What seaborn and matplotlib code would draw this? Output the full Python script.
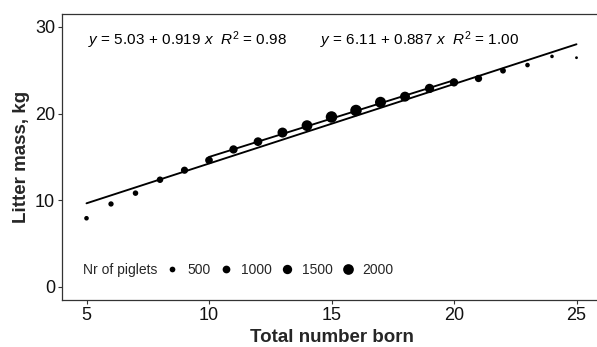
import matplotlib
matplotlib.use("Agg")
import matplotlib.pyplot as plt
from matplotlib.lines import Line2D
import numpy as np
import pandas as pd
import seaborn as sns

# ---- data ----
total_born = [5, 6, 7, 8, 9, 10, 11, 12, 13, 14, 15, 16, 17, 18, 19, 20, 21, 22, 23, 24, 25]
litter_mass = [7.9, 9.55, 10.8, 12.35, 13.45, 14.6, 15.85, 16.75, 17.8, 18.6, 19.6, 20.35,
               21.3, 21.95, 22.9, 23.6, 24.05, 24.95, 25.6, 26.6, 26.45]
n_piglets = [290, 420, 460, 680, 850, 990, 1170, 1290, 1730, 2040, 2320, 2320,
             2120, 1730, 1490, 1170, 880, 520, 290, 140, 50]

fit_intercepts = [5.03, 6.11]
fit_slopes = [0.919, 0.887]
fit_r2 = [0.98, 1.00]
fit_xmin = [5, 10]
fit_xmax = [25, 20]

legend_breaks = [500, 1000, 1500, 2000]
legend_title = "Nr of piglets"
x_ticks = [5, 10, 15, 20, 25]
y_ticks = [0, 10, 20, 30]
x_label = "Total number born"
y_label = "Litter mass, kg"

# ---- style ----
sns.set_style("ticks")
plt.rcParams['font.family'] = ['Liberation Sans', 'DejaVu Sans']
plt.rcParams['mathtext.fontset'] = 'custom'
plt.rcParams['mathtext.rm'] = 'Liberation Sans'
plt.rcParams['mathtext.it'] = 'Liberation Sans:italic'
plt.rcParams['mathtext.bf'] = 'Liberation Sans:bold'

W, H = 597, 347
fig = plt.figure(figsize=(W / 100, H / 100), dpi=100)
ax = fig.add_axes([62 / W, 1 - 299.6 / H, 539 / W, 285.6 / H])

df = pd.DataFrame({"tb": total_born, "mass": litter_mass, "n": n_piglets})

SIZE_NORM = (0, 2400)
s_of = lambda c: 2.7 + 0.02836 * c
SIZES = (s_of(SIZE_NORM[0]), s_of(SIZE_NORM[1]))

sns.scatterplot(data=df, x="tb", y="mass", size="n", sizes=SIZES, size_norm=SIZE_NORM,
                color="black", linewidth=0, legend=False, ax=ax, zorder=3)

for a, b, x0, x1 in zip(fit_intercepts, fit_slopes, fit_xmin, fit_xmax):
    xs = np.array([x0, x1], dtype=float)
    sns.lineplot(x=xs, y=a + b * xs, color="black", linewidth=1.35, ax=ax, zorder=4)

ax.set_xlim(4, 26)
ax.set_ylim(-1.5, 31.5)
ax.set_xticks(x_ticks)
ax.set_yticks(y_ticks)
ax.tick_params(axis="both", labelsize=13, length=3, width=0.8, color="#333333", pad=2,
               labelcolor="#111111")
for sp in ax.spines.values():
    sp.set_linewidth(0.9)
    sp.set_color("#333333")
ax.spines["right"].set_visible(False)

ax.set_xlabel(x_label, fontsize=13.5, fontweight="bold")
ax.set_ylabel(y_label, fontsize=13.5, fontweight="bold")
ax.xaxis.set_label_coords(0.5, -0.104)
ax.yaxis.set_label_coords(-0.06, 0.5)

# equations
eq_x = [5.05, 14.52]
for (a, b, r2), ex in zip(zip(fit_intercepts, fit_slopes, fit_r2), eq_x):
    txt = (r"$\mathit{y}$ = " + f"{a:.2f}" + r"$\,+\,$" + f"{b:.3f} " + r"$\mathit{x}$" +
           "  " + r"$\mathit{R}^2$" + f" = {r2:.2f}")
    ax.text(ex, 28.5, txt, fontsize=11, ha="left", va="center", color="black")

# legend
ax.text(4.84, 1.93, legend_title, fontsize=10, ha="left", va="center")
handles = [Line2D([], [], linestyle="none", marker="o", color="black", markeredgewidth=0,
                  markersize=np.sqrt(s_of(c))) for c in legend_breaks]
ax.legend(handles, [str(c) for c in legend_breaks], ncol=4, frameon=False, fontsize=10,
          loc="center left", bbox_to_anchor=(8.23, 1.93), bbox_transform=ax.transData,
          borderpad=0, borderaxespad=0, handlelength=0.95, handletextpad=0.6,
          columnspacing=0.62)

fig.savefig("out.png", dpi=100)
